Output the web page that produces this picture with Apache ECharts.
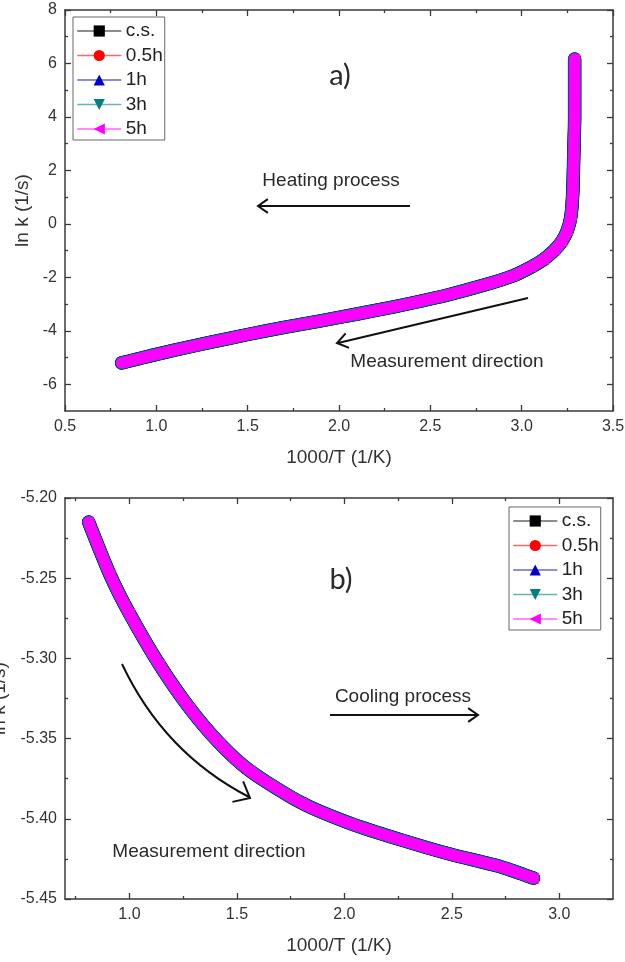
<!DOCTYPE html>
<html lang="en">
<head>
<meta charset="UTF-8">
<title>ln k vs 1000/T</title>
<style>
    html, body { margin: 0; padding: 0; background: #fff; }
    #main { width: 625px; height: 962px; }
</style>
</head>
<body>
<div id="main"></div>
<script src="https://cdn.jsdelivr.net/npm/echarts@6/dist/echarts.min.js"></script>
<script>
// series (legend) info
var seriesNames = ['c.s.', '0.5h', '1h', '3h', '5h'];
var seriesColors = ['#000000', '#ff0000', '#0000cc', '#008080', '#ff00ff'];
var seriesSymbols = ['rect', 'circle', 'triangle', 'triangle', 'triangle'];
var symbolRotates = [0, 0, 0, 180, 90];

// a) heating process: 1000/T (1/K) vs ln k (1/s)
var heatX = [0.81, 0.9, 1.0, 1.2, 1.4, 1.6, 1.8, 2.0, 2.2, 2.4, 2.6, 2.8, 2.95, 3.05, 3.12, 3.18, 3.22, 3.25, 3.27, 3.28, 3.285, 3.29, 3.29, 3.29, 3.29];
var heatY = [-5.2, -5.05, -4.88, -4.57, -4.28, -4.0, -3.75, -3.5, -3.24, -2.96, -2.65, -2.28, -1.95, -1.62, -1.33, -0.98, -0.65, -0.25, 0.3, 1.2, 2.5, 4.0, 5.0, 5.45, 6.17];

// b) cooling process
var coolX = [0.81, 0.91, 1.0, 1.14, 1.28, 1.42, 1.56, 1.8, 2.03, 2.26, 2.49, 2.73, 2.88];
var coolY = [-5.215, -5.248, -5.272, -5.304, -5.331, -5.353, -5.37, -5.39, -5.403, -5.413, -5.422, -5.43, -5.437];

// tick values
var heatXTicks = [0.5, 1.0, 1.5, 2.0, 2.5, 3.0, 3.5];
var heatXMinor = [0.75, 1.25, 1.75, 2.25, 2.75, 3.25];
var heatYTicks = [-6, -4, -2, 0, 2, 4, 6, 8];
var heatYMinor = [-5, -3, -1, 1, 3, 5, 7];
var coolXTicks = [1.0, 1.5, 2.0, 2.5, 3.0];
var coolXMinor = [0.75, 1.25, 1.75, 2.25, 2.75];
var coolYTicks = [-5.45, -5.40, -5.35, -5.30, -5.25, -5.20];
var coolYMinor = [-5.425, -5.375, -5.325, -5.275, -5.225];

var AX = '#3a3a3a';
var FONT = '"Liberation Sans", Arial, sans-serif';

// 4 axes per side: main (line + major ticks + labels), minor ticks, mirror main, mirror minor
function axisSet(grid, pos, mirror, min, max, major, minor, digits, name, nameGap) {
    function one(p, ticks, len, withLine, withLabel) {
        var ax = {
            type: 'value', gridIndex: grid, position: p, min: min, max: max,
            splitLine: { show: false },
            axisLine: { show: withLine, onZero: false, lineStyle: { color: AX, width: 1.5 } },
            axisTick: { show: true, inside: true, length: len, customValues: ticks, lineStyle: { color: AX, width: 1.3 } },
            axisLabel: { show: false }
        };
        if (withLabel) {
            ax.axisLabel = {
                show: true, customValues: ticks, margin: 8, color: '#333', fontSize: 16, fontFamily: FONT,
                formatter: function (v) { return (+v).toFixed(digits); }
            };
            ax.name = name;
            ax.nameLocation = 'middle';
            ax.nameGap = nameGap;
            ax.nameTextStyle = { color: '#333', fontSize: 19, fontFamily: FONT };
        }
        return ax;
    }
    return [
        one(pos, major, 6, true, true),
        one(pos, minor, 3, false, false),
        one(mirror, major, 6, true, false),
        one(mirror, minor, 3, false, false)
    ];
}

var xAxes = [].concat(
    axisSet(0, 'bottom', 'top', 0.5, 3.5, heatXTicks, heatXMinor, 1, '1000/T (1/K)', 37),
    axisSet(1, 'bottom', 'top', 0.7, 3.25, coolXTicks, coolXMinor, 1, '1000/T (1/K)', 37)
);
var yAxes = [].concat(
    axisSet(0, 'left', 'right', -7, 8, heatYTicks, heatYMinor, 0, 'ln k (1/s)', 32),
    axisSet(1, 'left', 'right', -5.45, -5.20, coolYTicks, coolYMinor, 2, 'ln k (1/s)', 55)
);
yAxes[0].nameRotate = 90;
yAxes[4].nameRotate = 90;

function buildSeries(grid, xs, ys) {
    var widths = [13, 13, 13.5, 12.5, 11];
    var data = xs.map(function (x, k) { return [x, ys[k]]; });
    return seriesNames.map(function (n, i) {
        return {
            name: n, type: 'line', xAxisIndex: grid * 4, yAxisIndex: grid * 4,
            data: data,
            smooth: 0.25,
            symbol: seriesSymbols[i], symbolRotate: symbolRotates[i], symbolSize: 11,
            showSymbol: i === 4,
            color: seriesColors[i],
            itemStyle: { color: seriesColors[i] },
            lineStyle: { width: widths[i], color: seriesColors[i], join: 'round', cap: 'round' },
            animation: false
        };
    });
}

function legendAt(left, top) {
    return {
        left: left, top: top, orient: 'vertical',
        data: seriesNames,
        itemWidth: 43, itemHeight: 14, itemGap: 4.5,
        padding: [4, 2, 1, 4],
        borderColor: '#666', borderWidth: 1,
        backgroundColor: '#fff',
        lineStyle: { width: 1.5, opacity: 0.6 },
        textStyle: { fontSize: 19, lineHeight: 20, color: '#222', fontFamily: FONT }
    };
}

function arrowHead(tx, ty, fx, fy, len, spreadDeg) {
    var a = Math.atan2(fy - ty, fx - tx);
    var s = spreadDeg * Math.PI / 180;
    return [
        [tx + len * Math.cos(a + s), ty + len * Math.sin(a + s)],
        [tx, ty],
        [tx + len * Math.cos(a - s), ty + len * Math.sin(a - s)]
    ];
}

function label(text, x, y, size, family) {
    return {
        type: 'text', x: x, y: y, z: 100,
        style: { text: text, fill: '#2a2a2a', fontSize: size, fontFamily: family || FONT, align: 'center', verticalAlign: 'middle' }
    };
}

var arrowStyle = { stroke: '#111', lineWidth: 2, fill: null };
var graphics = [
    label('a)', 340, 76, 29, 'Lato, "Open Sans", sans-serif'),
    label('Heating process', 331, 181, 19),
    { type: 'line', shape: { x1: 410, y1: 206, x2: 259, y2: 206 }, style: arrowStyle },
    { type: 'polyline', shape: { points: arrowHead(258, 206, 410, 206, 12, 35) }, style: arrowStyle },
    label('Measurement direction', 447, 362, 19),
    { type: 'line', shape: { x1: 528, y1: 298, x2: 338, y2: 343 }, style: arrowStyle },
    { type: 'polyline', shape: { points: arrowHead(337, 343, 528, 298, 13, 35) }, style: arrowStyle },

    label('b)', 341, 580, 29, 'Lato, "Open Sans", sans-serif'),
    label('Cooling process', 403, 697, 19),
    { type: 'line', shape: { x1: 330, y1: 715, x2: 477, y2: 715 }, style: arrowStyle },
    { type: 'polyline', shape: { points: arrowHead(478, 715, 330, 715, 12, 35) }, style: arrowStyle },
    label('Measurement direction', 209, 852, 19),
    { type: 'bezierCurve', shape: { x1: 122, y1: 664, cpx1: 164, cpy1: 753, x2: 249, y2: 797 }, style: arrowStyle },
    { type: 'polyline', shape: { points: arrowHead(250, 798, 164, 753, 18, 40) }, style: arrowStyle }
];

var chart = echarts.init(document.getElementById('main'), null, { renderer: 'canvas' });
chart.setOption({
    backgroundColor: '#fff',
    animation: false,
    grid: [
        { left: 65, top: 10, width: 548, height: 401, containLabel: false, outerBoundsMode: 'none' },
        { left: 65, top: 498, width: 548, height: 401, containLabel: false, outerBoundsMode: 'none' }
    ],
    legend: [legendAt(73, 17), legendAt(509, 507)],
    xAxis: xAxes,
    yAxis: yAxes,
    series: [].concat(buildSeries(0, heatX, heatY), buildSeries(1, coolX, coolY)),
    graphic: graphics
});
</script>
</body>
</html>
